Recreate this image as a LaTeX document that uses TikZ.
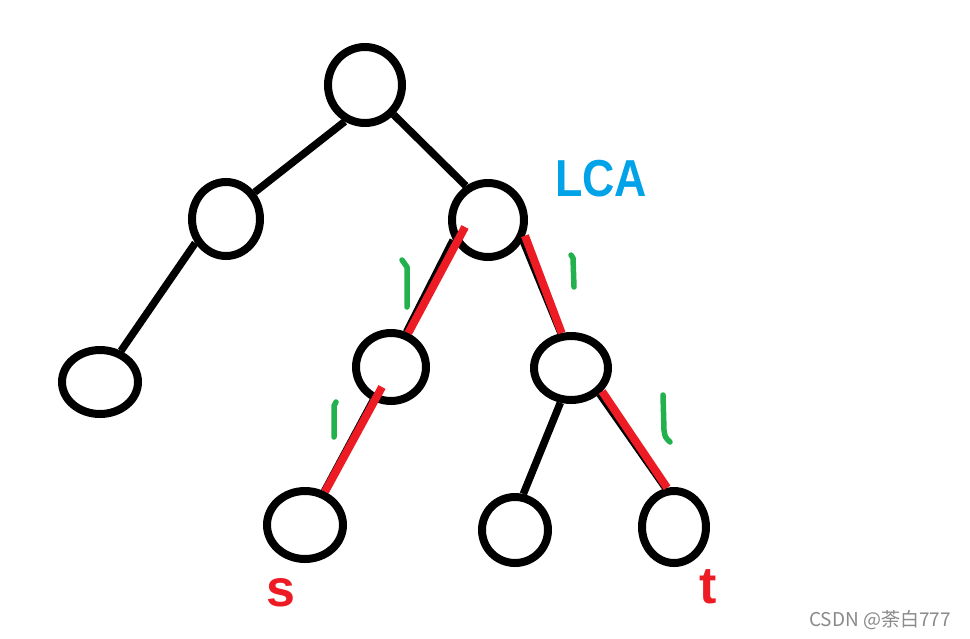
\documentclass[tikz,border=0pt]{standalone}
\usepackage{fontspec}
\setmainfont{Liberation Sans}
\newfontfamily\cjk{Noto Sans CJK SC}
\usetikzlibrary{shapes.geometric,calc}
\definecolor{pred}{RGB}{237,28,36}
\definecolor{pgreen}{RGB}{34,177,76}
\definecolor{pblue}{RGB}{0,162,232}
\definecolor{wmgray}{RGB}{138,138,138}
\begin{document}
\begin{tikzpicture}[x=1pt,y=-1pt,
  vert/.style={ellipse,draw=black,line width=8pt,inner sep=0pt,fill=none},
  blackedge/.style={draw=black,line width=7.5pt},
  rededge/.style={draw=pred,line width=8pt},
  tick/.style={draw=pgreen,line width=5.5pt,line cap=round,line join=round},
  lab/.style={inner sep=0pt,font=\fontsize{52}{52}\selectfont\bfseries}]
\fill[white] (0,0) rectangle (970,638);
\useasboundingbox (0,0) rectangle (970,638);
% vertices
\node[vert,minimum width=74pt,minimum height=76pt] (root) at (365,85) {};
\node[vert,minimum width=68pt,minimum height=74pt] (A) at (226,219) {};
\node[vert,minimum width=72pt,minimum height=74pt] (LCA) at (488,220) {};
\node[vert,minimum width=76pt,minimum height=64pt] (F) at (100,382) {};
\node[vert,minimum width=70pt,minimum height=68pt] (M1) at (391,367) {};
\node[vert,minimum width=74pt,minimum height=64pt] (M2) at (571,368) {};
\node[vert,minimum width=76pt,minimum height=68pt] (S) at (305,525) {};
\node[vert,minimum width=66pt,minimum height=66pt] (L2) at (515,530) {};
\node[vert,minimum width=64pt,minimum height=72pt] (T) at (674,527) {};
% black edges
\draw[blackedge] (root.241) -- (A.43);
\draw[blackedge] (root.314) -- (LCA.123);
\draw[blackedge] (A.218) -- (F.56);
\draw[blackedge] (M2.253) -- (L2.77);
\draw[blackedge] (LCA.210) -- (M1.66);
\draw[blackedge] (LCA.330) -- (M2.106);
\draw[blackedge] (M1.242) -- (S.60);
\draw[blackedge] (M2.318) -- (T.102);
% red path
\draw[rededge] ($(LCA)+(-23,7)$) -- (M1.63);
\draw[rededge] (LCA.337) -- (M2.105);
\draw[rededge] ($(M1)+(-9,20)$) -- (S.59);
\draw[rededge] (M2.323) -- (T.100);
% green marks
\draw[tick] (402,260) -- (407,267) -- (407,307);
\draw[tick] (571,255) -- (573,258) -- (574,287);
\draw[tick] (336,402) -- (334,406) -- (334,437);
\draw[tick] (663,395) -- (664,430) .. controls (665,437) .. (670,442);
% labels
\node[lab,text=pblue] (lcalabel) at (601,179) {\scalebox{0.86}[1]{LCA}};
\node[lab,text=pred] (slabel) at (281,593) {s};
\node[lab,text=pred] (tlabel) at (708,587) {t};
\node[anchor=west,inner sep=0pt,text=wmgray,font=\cjk\fontsize{19}{19}\selectfont] (wm) at (809,620) {CSDN @荼白777};
\end{tikzpicture}
\end{document}
